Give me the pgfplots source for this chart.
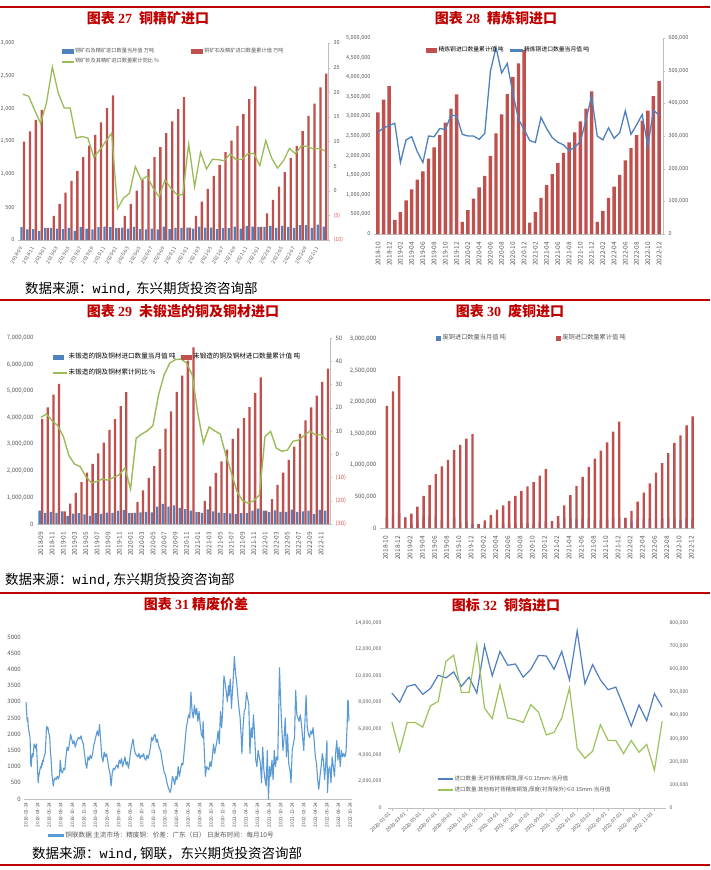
\documentclass[border=0pt]{standalone}
\usepackage{pgfplots}
\usepackage{pgfplotstable}
\pgfplotsset{compat=1.18}
\usepackage{fontspec}
\setmainfont{Noto Sans CJK SC}
\newfontfamily\titlenum{Liberation Serif}
\newfontfamily\srcmono{Liberation Mono}
\definecolor{tred}{HTML}{C00000}
\definecolor{bblue}{HTML}{4F81BD}
\definecolor{bred}{HTML}{C0504D}
\definecolor{lgreen}{HTML}{9BBB59}
\definecolor{tgray}{HTML}{595959}
\definecolor{negred}{HTML}{E05A55}
\definecolor{lblue}{HTML}{5B9BD5}
\definecolor{fblue}{HTML}{4F7FC1}
\definecolor{fgreen}{HTML}{9BC25B}
\newcommand{\fs}[1]{\fontsize{#1}{#1}\selectfont}
\newcommand{\gt}[1]{\textcolor{tgray}{#1}}

\pgfplotsset{
  base/.style={
    scale only axis, anchor=south west, clip=false,
    scaled ticks=false,
    /pgf/number format/assume math mode=true,
    /pgf/number format/fixed,
    /pgf/number format/precision=0,
    /pgf/number format/1000 sep={,},
    ticklabel style={text=tgray},
    axis line style={draw=black!25, line width=0.5pt},
    tick style={draw=none},
    legend cell align=left,
  },
  sq/.style 2 args={legend image code/.code={\fill[#1] (0pt,-2pt) rectangle (#2,2pt);}},
  ln/.style n args={3}{legend image code/.code={\fill[#1] (0pt,-#3) rectangle (#2,#3);}},
}

\pgfplotstableread{
i b r g
0 195 1500 19.6
1 160 1653 19.2
2 165 1830 16.4
3 140 1983 13.7
4 185 185 17.8
5 185 366 25.1
6 175 549 19.8
7 165 722 16.8
8 185 900 16.8
9 140 1053 10.7
10 200 1261 11.0
11 175 1439 10.7
12 160 1602 6.8
13 195 1790 8.3
14 205 2009 10.0
15 195 2202 11.7
16 180 180 -3.6
17 190 366 -1.5
18 175 549 -0.5
19 200 753 4.9
20 165 915 2.2
21 160 1078 3.0
22 175 1261 0.5
23 160 1414 -1.2
24 205 1627 2.2
25 165 1805 0.5
26 185 1993 -0.8
27 185 2176 -0.8
28 190 190 9.5
29 175 366 0.8
30 205 585 7.8
31 190 778 4.4
32 190 976 6.4
33 165 1144 6.3
34 180 1337 6.1
35 180 1515 7.5
36 205 1739 6.3
37 175 1917 6.4
38 215 2146 7.5
39 205 2339 7.6
40 200 200 5.1
41 200 407 10.2
42 215 610 6.6
43 185 814 4.6
44 215 1032 6.1
45 200 1246 8.6
46 185 1434 7.5
47 225 1663 9.1
48 225 1892 9.0
49 185 2075 8.5
50 235 2324 8.6
51 205 2532 8.1
}\dataA

\pgfplotstableread{
i r b
0 3100000 311000
1 3430000 325000
2 3770000 332000
3 360000 339000
4 560000 219000
5 860000 288000
6 1140000 298000
7 1390000 252000
8 1600000 219000
9 1920000 300000
10 2210000 298000
11 2520000 323000
12 2840000 320000
13 3200000 364000
14 3560000 361000
15 310000 305000
16 610000 300000
17 900000 300000
18 1190000 290000
19 1480000 308000
20 1990000 498000
21 2570000 571000
22 3050000 493000
23 3570000 522000
24 4010000 430000
25 4350000 351000
26 4690000 320000
27 290000 286000
28 560000 280000
29 920000 357000
30 1250000 323000
31 1530000 295000
32 1810000 281000
33 2070000 273000
34 2340000 255000
35 2590000 266000
36 2870000 283000
37 3200000 349000
38 3640000 422000
39 310000 300000
40 590000 288000
41 920000 325000
42 1210000 293000
43 1510000 310000
44 1880000 377000
45 2190000 305000
46 2520000 334000
47 2890000 366000
48 3150000 268000
49 3520000 379000
50 3900000 364000
}\dataB

\pgfplotstableread{
i b r g
0 500000 3960000 15.9
1 420000 4390000 17.3
2 460000 4870000 14.4
3 420000 5270000 12.3
4 480000 480000 7.7
5 310000 770000 -0.6
6 390000 1170000 -4.2
7 410000 1580000 -5.3
8 360000 1930000 -9.5
9 310000 2260000 -12.3
10 410000 2660000 -11.7
11 380000 3060000 -10.6
12 430000 3540000 -11.2
13 420000 3950000 -9.9
14 490000 4440000 -8.8
15 530000 4960000 -5.9
16 410000 410000 -15.0
17 420000 830000 6.9
18 440000 1270000 8.7
19 460000 1740000 10.1
20 440000 2180000 12.4
21 650000 2820000 25.6
22 760000 3590000 34.2
23 650000 4240000 39.2
24 700000 4970000 40.7
25 610000 5580000 41.0
26 560000 6150000 39.2
27 500000 6650000 34.2
28 450000 450000 17.7
29 420000 870000 4.8
30 550000 1420000 11.7
31 480000 1920000 10.1
32 430000 2360000 8.7
33 410000 2800000 -0.2
34 400000 3200000 -8.1
35 380000 3600000 -16.0
36 410000 3990000 -20.0
37 410000 4400000 -21.0
38 500000 4930000 -20.0
39 580000 5520000 -17.5
40 500000 500000 7.7
41 450000 940000 9.8
42 510000 1470000 2.7
43 460000 1930000 1.3
44 460000 2410000 1.8
45 540000 2910000 5.6
46 460000 3390000 6.1
47 480000 3900000 8.1
48 500000 4390000 9.9
49 380000 4830000 8.4
50 530000 5350000 8.4
51 500000 5850000 6.2
}\dataC

\pgfplotstableread{
i b r
0 170000 1940000
1 220000 2170000
2 240000 2410000
3 170000 170000
4 60000 230000
5 110000 340000
6 180000 510000
7 180000 680000
8 180000 860000
9 120000 980000
10 100000 1080000
11 160000 1240000
12 80000 1320000
13 100000 1420000
14 70000 1490000
15 60000 60000
16 50000 120000
17 90000 210000
18 80000 290000
19 70000 360000
20 70000 430000
21 70000 510000
22 80000 590000
23 80000 660000
24 60000 730000
25 100000 830000
26 110000 940000
27 110000 110000
28 80000 190000
29 170000 360000
30 160000 520000
31 140000 670000
32 150000 810000
33 150000 970000
34 130000 1100000
35 130000 1230000
36 130000 1360000
37 170000 1530000
38 160000 1690000
39 160000 160000
40 110000 270000
41 150000 420000
42 140000 560000
43 150000 710000
44 170000 880000
45 150000 1030000
46 160000 1190000
47 160000 1350000
48 120000 1470000
49 160000 1630000
50 140000 1770000
}\dataD

\pgfplotstableread{
m v
0.0 3000
0.1 2700
0.2 2400
0.3 2500
0.4 2200
0.5 2100
0.6 2000
0.7 1900
0.8 1100
0.9 1000
1.0 1300
1.1 1400
1.2 1300
1.3 1500
1.4 1700
1.5 1600
1.6 1650
1.7 1550
1.8 1700
1.9 1300
2.0 900
2.1 500
2.2 700
2.3 800
2.4 900
2.5 1000
2.6 950
2.7 1100
2.8 1050
2.9 1200
3.0 1150
3.1 1300
3.2 1350
3.3 1400
3.4 1700
3.5 2100
3.6 2250
3.7 2150
3.8 2200
3.9 2050
4.0 2000
4.1 1900
4.2 1500
4.3 1300
4.4 1000
4.5 700
4.6 600
4.7 400
4.8 550
4.9 600
5.0 650
5.2 600
5.4 700
5.6 620
5.8 750
5.9 1200
6.0 1050
6.1 850
6.3 800
6.5 950
6.7 900
6.9 1300
7.1 1600
7.3 1500
7.5 1700
7.7 2000
7.9 1850
8.1 1700
8.3 1800
8.5 1600
8.7 1750
8.9 1850
9.1 1900
9.3 1850
9.5 1950
9.7 1800
9.9 1700
10.1 1400
10.3 1100
10.5 950
10.7 1300
10.9 1200
11.1 1350
11.3 1250
11.5 1400
11.7 1650
11.9 1800
12.1 1950
12.3 2100
12.5 1950
12.7 2300
12.9 1800
13.1 1300
13.3 1150
13.5 1450
13.7 1300
13.9 1400
14.1 1200
14.3 950
14.5 800
14.7 400
14.9 800
15.1 950
15.3 900
15.5 1000
15.7 1050
15.9 950
16.1 1200
16.3 1100
16.5 1250
16.7 1000
16.9 1150
17.1 1300
17.3 1050
17.5 1150
17.7 950
17.9 1200
18.1 1500
18.3 1700
18.5 1850
18.7 1550
18.9 1400
19.1 1350
19.3 1300
19.5 1400
19.7 1250
19.9 1350
20.1 1300
20.3 1400
20.5 1250
20.7 1200
20.9 1350
21.1 1250
21.3 1400
21.5 1600
21.7 1900
21.9 1800
22.1 1950
22.3 2000
22.5 1750
22.7 1850
22.9 1650
23.1 1550
23.3 1450
23.5 1200
23.7 1000
23.9 800
24.1 750
24.3 550
24.5 400
24.7 300
24.9 200
25.1 350
25.3 700
25.5 600
25.7 450
25.9 700
26.1 600
26.3 1000
26.5 700
26.7 900
26.9 1100
27.1 1050
27.3 1400
27.5 1800
27.7 2200
27.9 2400
28.1 2600
28.3 2500
28.5 3300
28.7 2700
28.9 2500
29.1 2900
29.3 2600
29.5 2800
29.7 2400
29.9 2700
30.1 2300
30.3 2000
30.5 1900
30.6 2400
30.8 1500
31.0 700
31.2 1000
31.4 950
31.6 900
31.8 1150
32.0 1000
32.2 1300
32.4 1700
32.6 1400
32.8 1600
33.0 1800
33.2 2100
33.4 1700
33.6 2700
33.8 2200
34.0 2800
34.2 3800
34.4 3600
34.6 3300
34.8 3000
35.0 3500
35.1 3200
35.3 3700
35.5 2800
35.7 3400
35.9 4000
36.0 4400
36.2 3900
36.4 3600
36.6 3200
36.8 2800
37.0 2500
37.2 1900
37.3 1400
37.5 2200
37.7 2700
37.9 2800
38.1 3300
38.3 3100
38.5 2900
38.7 1400
38.9 2200
39.1 1900
39.3 2600
39.5 2000
39.7 1200
39.9 1000
40.1 1500
40.3 1300
40.5 1100
40.7 500
40.9 1600
41.1 900
41.3 600
41.5 400
41.7 1500
41.9 0
42.1 1000
42.3 700
42.5 1200
42.7 600
42.9 1500
43.1 1000
43.3 1300
43.5 1200
43.8 4050
44.0 3000
44.2 2200
44.4 1500
44.6 1900
44.8 2500
45.0 1300
45.2 2000
45.4 1100
45.6 900
45.8 500
46.0 1500
46.2 1700
46.4 1900
46.6 3350
46.8 2600
47.0 2500
47.2 2400
47.4 2600
47.6 2300
47.8 1900
48.0 1500
48.2 2400
48.4 3200
48.6 2200
48.8 2000
49.0 1900
49.2 2100
49.4 2000
49.6 2200
49.8 1800
50.0 1300
50.2 1100
50.4 600
50.6 300
50.8 700
51.0 1000
51.2 1400
51.4 1200
51.6 600
51.8 1100
52.0 1800
52.1 200
52.3 900
52.5 1000
52.7 500
52.9 1300
53.1 1000
53.3 700
53.5 1400
53.7 1800
53.9 1200
54.1 1600
54.3 1000
54.5 1500
54.7 1300
54.9 1400
55.1 1300
55.3 1450
55.5 2300
55.6 3050
55.7 3000
55.8 2400
}\dataE

\pgfplotstableread{
i a b
0 8700000 372000
1 8000000 245000
2 9200000 370000
3 9350000 370000
4 8600000 350000
5 9050000 442000
6 10050000 461000
7 9850000 634000
8 10300000 661000
9 9200000 500000
10 9900000 500000
11 8700000 706000
12 12300000 432000
13 10000000 386000
14 11850000 532000
15 10800000 390000
16 10900000 382000
17 9900000 370000
18 10500000 447000
19 11550000 414000
20 11500000 316000
21 10500000 327000
22 11850000 389000
23 9700000 519000
24 13400000 258000
25 9400000 215000
26 10850000 246000
27 9700000 360000
28 8950000 292000
29 9150000 292000
30 7700000 235000
31 6200000 292000
32 7800000 241000
33 6600000 275000
34 8650000 164000
35 7650000 375000
}\dataF

\begin{document}
\begin{tikzpicture}
\useasboundingbox (0pt,0pt) rectangle (710pt,-870pt);
\fill[white] (0pt,0pt) rectangle (710pt,-870pt);
\draw[tred, line width=2.5pt] (0pt,-7pt) -- (710pt,-7pt);
\draw[tred, line width=2.5pt] (0pt,-300pt) -- (710pt,-300pt);
\draw[tred, line width=2.5pt] (0pt,-593pt) -- (710pt,-593pt);
\draw[tred, line width=2.5pt] (0pt,-865pt) -- (710pt,-865pt);

\node[text=tred, font=\fs{14}\bfseries] at (148pt,-18pt) {图表 {\titlenum\bfseries 27}\enspace 铜精矿进口};
\node[text=tred, font=\fs{14}\bfseries] at (496pt,-18pt) {图表 {\titlenum\bfseries 28}\enspace 精炼铜进口};
\node[text=tred, font=\fs{14}\bfseries] at (183pt,-311pt) {图表 {\titlenum\bfseries 29}\enspace 未锻造的铜及铜材进口};
\node[text=tred, font=\fs{14}\bfseries] at (510pt,-311pt) {图表 {\titlenum\bfseries 30}\enspace 废铜进口};
\node[text=tred, font=\fs{14}\bfseries] at (196pt,-604pt) {图表 {\titlenum\bfseries 31} 精废价差};
\node[text=tred, font=\fs{14}\bfseries] at (506pt,-605pt) {图标 {\titlenum\bfseries 32}\enspace 铜箔进口};

\node[anchor=west, font=\fs{13.5}, inner sep=0pt] at (25pt,-289pt) {数据来源：{\srcmono wind,} 东兴期货投资咨询部};
\node[anchor=west, font=\fs{13.5}, inner sep=0pt] at (5pt,-580pt) {数据来源：{\srcmono wind,}东兴期货投资咨询部};
\node[anchor=west, font=\fs{13.5}, inner sep=0pt] at (32pt,-854pt) {数据来源：{\srcmono wind,}钢联，东兴期货投资咨询部};

% ---------------- Chart 27
\begin{axis}[base, at={(18pt,-240pt)}, width=310pt, height=197pt,
  xmin=-0.8, xmax=51.5, ymin=0, ymax=3000,
  ybar=0.3pt, bar width=2.3pt,
  axis x line*=bottom, axis y line*=left, y axis line style={draw=none},
  ytick={0,500,1000,1500,2000,2500,3000}, yticklabel style={font=\fs{5.5}},
  xtick={0,2,...,50},
  xticklabels={2018-09,2018-11,2019-01,2019-03,2019-05,2019-07,2019-09,2019-11,2020-01,2020-03,2020-05,2020-07,2020-09,2020-11,2021-01,2021-03,2021-05,2021-07,2021-09,2021-11,2022-01,2022-03,2022-05,2022-07,2022-09,2022-11},
  xticklabel style={rotate=60, anchor=east, font=\fs{5}},
]
\addplot[fill=bblue, draw=none] table[x=i,y=b]{\dataA};
\addplot[fill=bred, draw=none] table[x=i,y=r]{\dataA};
\end{axis}
\begin{axis}[base, at={(18pt,-240pt)}, width=310pt, height=197pt,
  xmin=-0.8, xmax=51.5, ymin=-10, ymax=30,
  axis x line=none, axis y line*=right,
  ytick={-10,-5,0,5,10,15,20,25,30},
  yticklabels={{\textcolor{negred}{(10)}},{\textcolor{negred}{(5)}},0,5,10,15,20,25,30},
  yticklabel style={font=\fs{5.5}},
  ytick style={draw=black!25}, tick align=outside, major tick length=2pt,
  legend style={at={(0.14,0.985)}, anchor=north west, draw=none, fill=none, font=\fs{5.2}, legend columns=2, /tikz/every even column/.append style={column sep=30pt}, row sep=0.5pt, inner sep=0pt},
]
\addlegendimage{sq={bblue}{11pt}}\addlegendentry{\gt{铜矿石及精矿进口数量当月值 万吨}}
\addlegendimage{sq={bred}{11pt}}\addlegendentry{\gt{铜矿石及精矿进口数量累计值 万吨}}
\addlegendimage{ln={lgreen}{11pt}{0.7pt}}\addlegendentry{\gt{铜矿砂及其精矿进口数量累计同比 \%}}
\addplot[lgreen, line width=1.3pt, forget plot] table[x=i,y=g]{\dataA};
\end{axis}

% ---------------- Chart 28
\begin{axis}[base, at={(374pt,-234pt)}, width=289pt, height=196pt,
  xmin=-0.7, xmax=50.7, ymin=0, ymax=5000000,
  ybar, bar width=3.4pt,
  axis x line*=bottom, axis y line*=left, y axis line style={draw=none},
  ytick={0,500000,1000000,1500000,2000000,2500000,3000000,3500000,4000000,4500000,5000000},
  yticklabel style={font=\fs{5.5}},
  xtick={0,2,...,50},
  xticklabels={2018-10,2018-12,2019-02,2019-04,2019-06,2019-08,2019-10,2019-12,2020-02,2020-04,2020-06,2020-08,2020-10,2020-12,2021-02,2021-04,2021-06,2021-08,2021-10,2021-12,2022-02,2022-04,2022-06,2022-08,2022-10,2022-12},
  xticklabel style={rotate=90, anchor=east, font=\fs{6.5}},
]
\addplot[fill=bred, draw=none] table[x=i,y=r]{\dataB};
\end{axis}
\begin{axis}[base, at={(374pt,-234pt)}, width=289pt, height=196pt,
  xmin=-0.7, xmax=50.7, ymin=0, ymax=600000,
  axis x line=none, axis y line*=right,
  ytick={0,100000,200000,300000,400000,500000,600000},
  yticklabel style={font=\fs{5.5}},
  ytick style={draw=black!25}, tick align=outside, major tick length=2pt,
  legend style={at={(0.18,0.965)}, anchor=north west, draw=none, fill=none, font=\fs{5.8}, legend columns=2, /tikz/every even column/.append style={column sep=4pt}, inner sep=0pt},
]
\addlegendimage{sq={bred}{10pt}}\addlegendentry{精炼铜进口数量累计值 吨}
\addlegendimage{ln={bblue}{12pt}{0.75pt}}\addlegendentry{精炼铜进口数量当月值 吨}
\addplot[bblue, line width=1.3pt, forget plot] table[x=i,y=b]{\dataB};
\end{axis}

% ---------------- Chart 29
\begin{axis}[base, at={(37pt,-524pt)}, width=293pt, height=186pt,
  xmin=-0.7, xmax=51.6, ymin=0, ymax=7000000,
  ybar=0.3pt, bar width=2.3pt,
  axis x line*=bottom, axis y line*=left, y axis line style={draw=none},
  ytick={0,1000000,2000000,3000000,4000000,5000000,6000000,7000000},
  yticklabel style={font=\fs{6}},
  xtick={0,2,...,50},
  xticklabels={2018-09,2018-11,2019-01,2019-03,2019-05,2019-07,2019-09,2019-11,2020-01,2020-03,2020-05,2020-07,2020-09,2020-11,2021-01,2021-03,2021-05,2021-07,2021-09,2021-11,2022-01,2022-03,2022-05,2022-07,2022-09,2022-11},
  xticklabel style={rotate=90, anchor=east, font=\fs{6.5}},
]
\addplot[fill=bblue, draw=none] table[x=i,y=b]{\dataC};
\addplot[fill=bred, draw=none] table[x=i,y=r]{\dataC};
\end{axis}
\begin{axis}[base, at={(37pt,-524pt)}, width=293pt, height=186pt,
  xmin=-0.7, xmax=51.6, ymin=-30, ymax=50,
  axis x line=none, axis y line*=right,
  ytick={-30,-20,-10,0,10,20,30,40,50},
  yticklabels={{\textcolor{negred}{(30)}},{\textcolor{negred}{(20)}},{\textcolor{negred}{(10)}},0,10,20,30,40,50},
  yticklabel style={font=\fs{6}},
  ytick style={draw=black!25}, tick align=outside, major tick length=2pt,
  legend style={at={(0.055,0.93)}, anchor=north west, draw=none, fill=none, font=\fs{6.6}, legend columns=2, /tikz/every even column/.append style={column sep=3pt}, row sep=5pt, inner sep=0pt},
]
\addlegendimage{sq={bblue}{10pt}}\addlegendentry{未锻造的铜及铜材进口数量当月值 吨}
\addlegendimage{sq={bred}{10pt}}\addlegendentry{未锻造的铜及铜材进口数量累计值 吨}
\addlegendimage{ln={lgreen}{13pt}{0.75pt}}\addlegendentry{未锻造的铜及铜材累计同比 \%}
\addplot[lgreen, line width=1.4pt, forget plot] table[x=i,y=g]{\dataC};
\end{axis}

% ---------------- Chart 30
\begin{axis}[base, at={(380pt,-528pt)}, width=315pt, height=189pt,
  xmin=-0.9, xmax=50.6, ymin=0, ymax=3000000,
  ybar=0.3pt, bar width=2.4pt,
  axis x line*=bottom, axis y line*=left, y axis line style={draw=none},
  ytick={0,500000,1000000,1500000,2000000,2500000,3000000},
  yticklabel style={font=\fs{6}},
  xtick={0,2,...,50},
  xticklabels={2018-10,2018-12,2019-02,2019-04,2019-06,2019-08,2019-10,2019-12,2020-02,2020-04,2020-06,2020-08,2020-10,2020-12,2021-02,2021-04,2021-06,2021-08,2021-10,2021-12,2022-02,2022-04,2022-06,2022-08,2022-10,2022-12},
  xticklabel style={rotate=90, anchor=east, font=\fs{6.5}},
  legend style={at={(0.178,1.035)}, anchor=north west, draw=none, fill=none, font=\fs{6.2}, legend columns=2, /tikz/every even column/.append style={column sep=48pt}, inner sep=0pt},
]
\addlegendimage{sq={bblue}{4pt}}\addlegendentry{\gt{废铜进口数量当月值 吨}}
\addlegendimage{sq={bred}{4pt}}\addlegendentry{\gt{废铜进口数量累计值 吨}}
\addplot[fill=bblue, draw=none, forget plot] table[x=i,y=b]{\dataD};
\addplot[fill=bred, draw=none, forget plot] table[x=i,y=r]{\dataD};
\end{axis}

% ---------------- Chart 31
\begin{axis}[base, at={(24.3pt,-799pt)}, width=327.5pt, height=162pt,
  xmin=-0.3, xmax=56.3, ymin=0, ymax=5000,
  axis x line*=bottom, axis y line*=left, y axis line style={draw=none},
  ytick={0,500,1000,1500,2000,2500,3000,3500,4000,4500,5000},
  /pgf/number format/1000 sep={},
  yticklabel style={font=\fs{6}},
  xtick={0,2,...,56},
  xticklabels={2018-02-24,2018-04-24,2018-06-24,2018-08-24,2018-10-24,2018-12-24,2019-02-24,2019-04-24,2019-06-24,2019-08-24,2019-10-24,2019-12-24,2020-02-24,2020-04-24,2020-06-24,2020-08-24,2020-10-24,2020-12-24,2021-02-24,2021-04-24,2021-06-24,2021-08-24,2021-10-24,2021-12-24,2022-02-24,2022-04-24,2022-06-24,2022-08-24,2022-10-24},
  xticklabel style={rotate=90, anchor=east, font=\fs{4.8}},
  legend style={at={(0.072,-0.19)}, anchor=north west, draw=none, fill=none, font=\fs{6.6}, inner sep=0pt},
]
\addlegendimage{ln={lblue}{15pt}{0.9pt}}\addlegendentry{\gt{铜联数据 主流市场：精废铜：价差：广东（日） 日发布时间：每月10号}}
\addplot[lblue, line width=1.1pt, line join=round, forget plot] table[x=m,y=v]{\dataE};
\end{axis}

% ---------------- Chart 32
\begin{axis}[base, at={(388pt,-808pt)}, width=278pt, height=185pt,
  xmin=-0.5, xmax=35.5, ymin=0, ymax=14000000,
  axis x line*=bottom, axis y line*=left, y axis line style={draw=none},
  ytick={0,2000000,4000000,6000000,8000000,10000000,12000000,14000000},
  yticklabel style={font=\fs{5.2}},
  xtick={0,2,...,34},
  xticklabels={2020-01-01,2020-03-01,2020-05-01,2020-07-01,2020-09-01,2020-11-01,2021-01-01,2021-03-01,2021-05-01,2021-07-01,2021-09-01,2021-11-01,2022-01-01,2022-03-01,2022-05-01,2022-07-01,2022-09-01,2022-11-01},
  xticklabel style={rotate=45, anchor=east, font=\fs{5}},
  xtick style={draw=black!25}, tick align=outside, major tick length=3pt,
]
\addplot[fblue, line width=1.2pt] table[x=i,y=a]{\dataF};
\end{axis}
\begin{axis}[base, at={(388pt,-808pt)}, width=278pt, height=185pt,
  xmin=-0.5, xmax=35.5, ymin=0, ymax=800000,
  axis x line=none, axis y line*=right, y axis line style={draw=none},
  ytick={0,100000,200000,300000,400000,500000,600000,700000,800000},
  yticklabel style={font=\fs{5.2}},
  legend style={at={(0.18,0.185)}, anchor=north west, draw=none, fill=none, font=\fs{5.5}, legend columns=1, row sep=0.5pt, inner sep=0pt},
]
\addlegendimage{ln={fblue}{14pt}{0.55pt}}\addlegendentry{\gt{进口数量:无衬背精炼铜箔,厚≤0.15mm:当月值}}
\addlegendimage{ln={fgreen}{14pt}{0.55pt}}\addlegendentry{\gt{进口数量:其他有衬背精炼铜箔,厚度(衬背除外)≤0.15mm:当月值}}
\addplot[fgreen, line width=1.2pt, forget plot] table[x=i,y=b]{\dataF};
\end{axis}
\end{tikzpicture}
\end{document}
